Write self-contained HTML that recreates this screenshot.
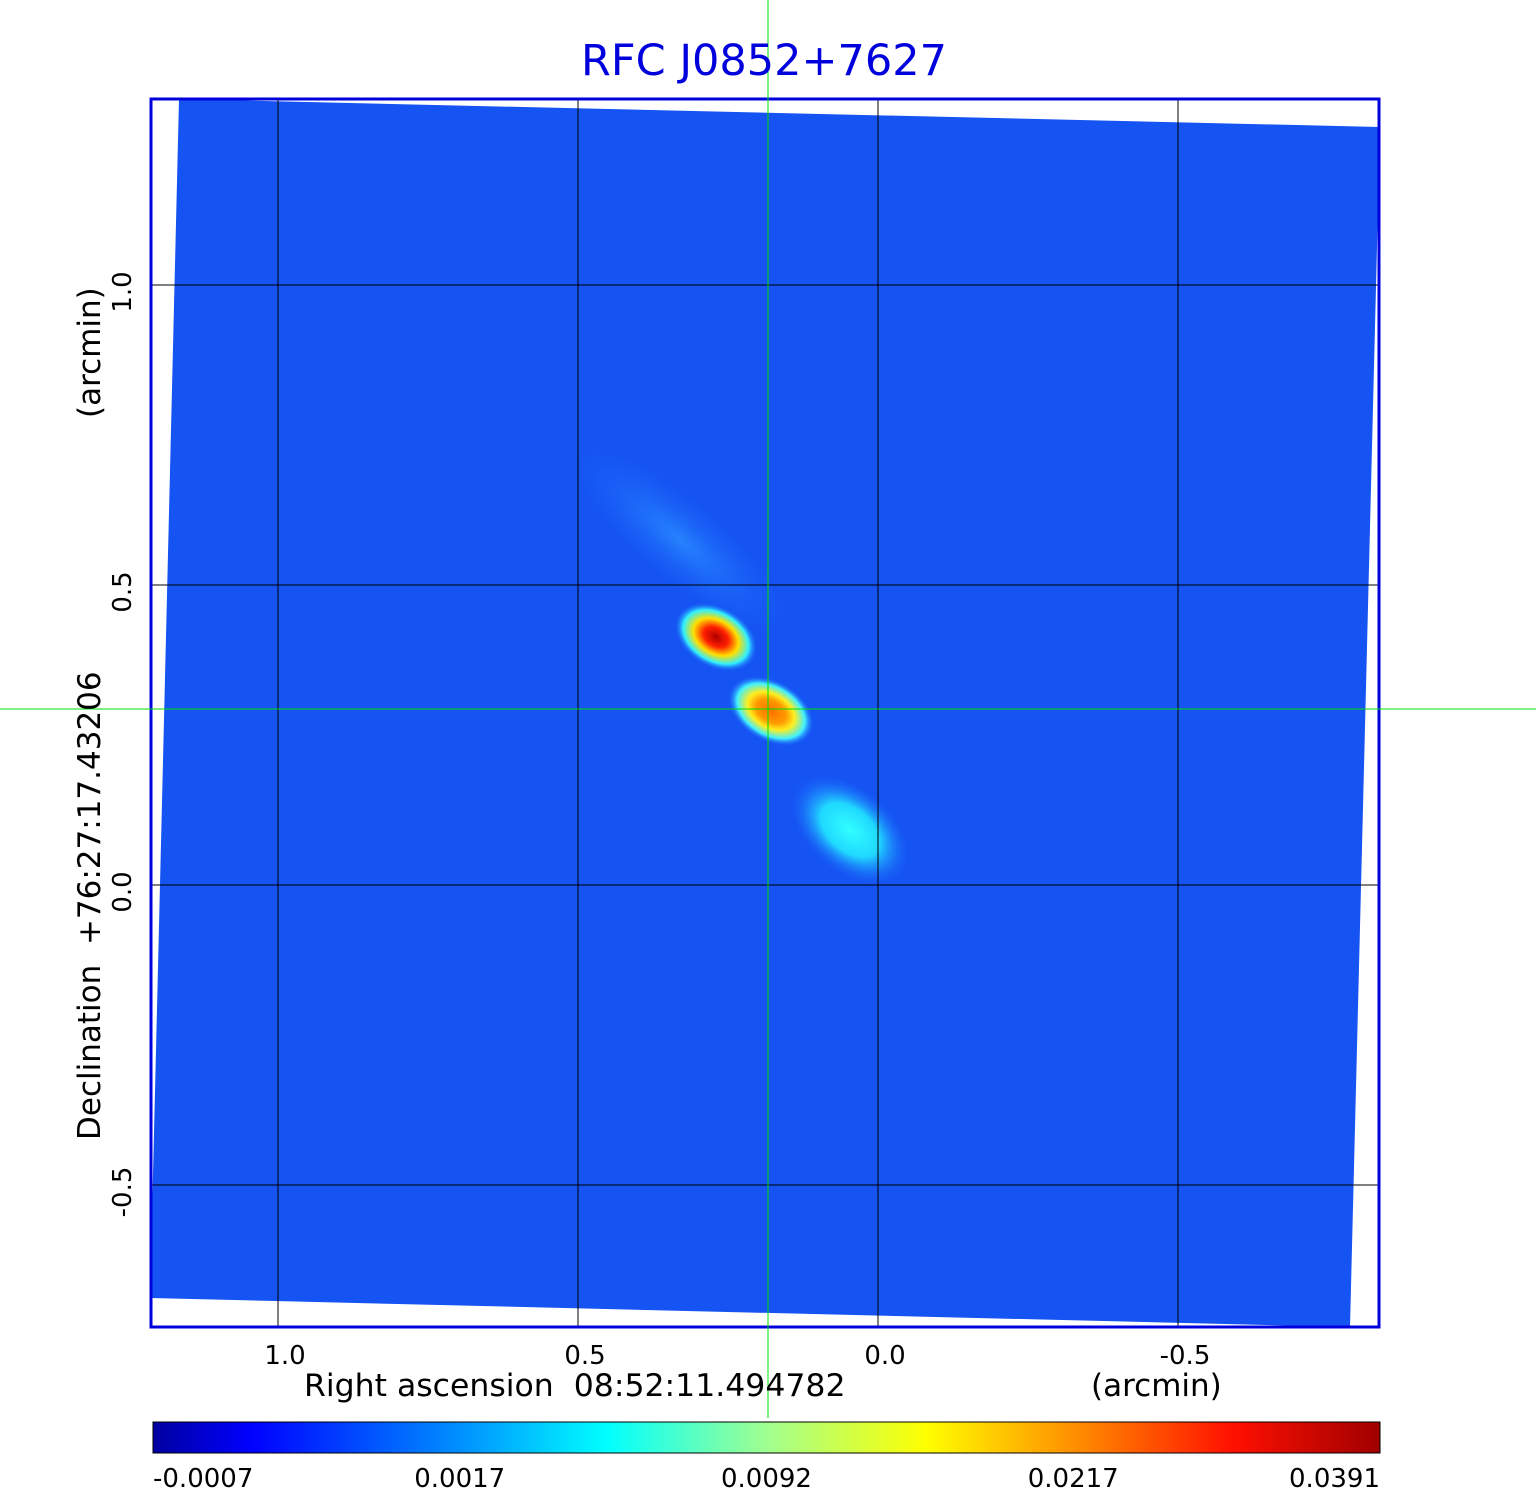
<!DOCTYPE html>
<html><head><meta charset="utf-8"><style>
html,body{margin:0;padding:0;background:#fff;width:1536px;height:1511px;overflow:hidden}
text{font-family:"DejaVu Sans","Liberation Sans",sans-serif;white-space:pre}
</style></head><body>
<svg id="chart" width="1536" height="1511" xmlns="http://www.w3.org/2000/svg">
<defs>
<radialGradient id="g1"><stop offset="0" stop-color="#b00000"/><stop offset="0.3" stop-color="#ff2000"/><stop offset="0.55" stop-color="#ffe000"/><stop offset="0.8" stop-color="#30f0ff"/><stop offset="1" stop-color="#1e6cff" stop-opacity="0"/></radialGradient>
<radialGradient id="g2"><stop offset="0" stop-color="#ff7000"/><stop offset="0.35" stop-color="#ff9a00"/><stop offset="0.55" stop-color="#ffee20"/><stop offset="0.8" stop-color="#40f0ff"/><stop offset="1" stop-color="#1e6cff" stop-opacity="0"/></radialGradient>
<radialGradient id="g3"><stop offset="0" stop-color="#30ffff"/><stop offset="0.5" stop-color="#20d8ff"/><stop offset="1" stop-color="#1e6cff" stop-opacity="0"/></radialGradient>
<radialGradient id="g4"><stop offset="0" stop-color="#2a90ff" stop-opacity="0.8"/><stop offset="1" stop-color="#1e6cff" stop-opacity="0"/></radialGradient>
<linearGradient id="cbar" x1="0" x2="1">
<stop offset="0" stop-color="#0000a0"/><stop offset="0.08" stop-color="#0000ff"/><stop offset="0.25" stop-color="#0090ff"/><stop offset="0.37" stop-color="#00ffff"/><stop offset="0.5" stop-color="#a0ff90"/><stop offset="0.63" stop-color="#ffff00"/><stop offset="0.75" stop-color="#ff9000"/><stop offset="0.88" stop-color="#ff1000"/><stop offset="1" stop-color="#a00000"/>
</linearGradient>
</defs>
<polygon points="179,99 1380,127 1350,1327 150,1298" fill="#1554f2"/>
<ellipse cx="680" cy="540" rx="130" ry="40" transform="rotate(40 680 540)" fill="url(#g4)"/>
<ellipse cx="850" cy="830" rx="68" ry="42" transform="rotate(40 850 830)" fill="url(#g3)"/>
<ellipse cx="716" cy="637" rx="44" ry="30" transform="rotate(30 716 637)" fill="url(#g1)"/>
<ellipse cx="771" cy="711" rx="46" ry="30" transform="rotate(30 771 711)" fill="url(#g2)"/>
<g id="grid"></g>
<rect x="151" y="99" width="1228" height="1228" fill="none" stroke="#0000dd" stroke-width="3"/>
<line x1="768" y1="0" x2="768" y2="1418" stroke="#00e000" stroke-width="1"/>
<line x1="0" y1="709" x2="1536" y2="709" stroke="#00e000" stroke-width="1"/>
<text x="764" y="75" font-size="43" fill="#0000dd" text-anchor="middle">RFC J0852+7627</text>
<text x="304" y="1396" font-size="31.5" fill="#000">Right ascension  08:52:11.494782</text>
<text x="1091" y="1396" font-size="31" fill="#000">(arcmin)</text>
<text transform="translate(100,1140) rotate(-90)" font-size="31" fill="#000">Declination  +76:27:17.43206</text>
<text transform="translate(100,418) rotate(-90)" font-size="31" fill="#000">(arcmin)</text>
<g id="ticks"></g>
<rect x="153" y="1422" width="1227" height="31" fill="url(#cbar)" stroke="#000" stroke-width="1"/>
<g id="cbticks"></g>
</svg>
<script>
const xTickVals=[1.0,0.5,0.0,-0.5];
const xTickLabels=["1.0","0.5","0.0","-0.5"];
const yTickVals=[1.0,0.5,0.0,-0.5];
const yTickLabels=["1.0","0.5","0.0","-0.5"];
const cbLabels=["-0.0007","0.0017","0.0092","0.0217","0.0391"];
const cbFrac=[0,0.25,0.5,0.75,1];
const ns="http://www.w3.org/2000/svg";
function xs(v){return 878-600*v;}
function ys(v){return 885-600*v;}
function cbx(f){return 153+f*(1380-153);}
const grid=document.getElementById('grid'),ticks=document.getElementById('ticks'),cb=document.getElementById('cbticks');
function mk(tag,at,parent){const e=document.createElementNS(ns,tag);for(const k in at)e.setAttribute(k,at[k]);parent.appendChild(e);return e;}
xTickVals.forEach((v,i)=>{
 const l=mk('line',{x1:xs(v),y1:99,x2:xs(v),y2:1327,stroke:'#000','stroke-width':1},grid);
 
 
 const t=mk('text',{x:xs(v)+7,y:1364,'font-size':26,'text-anchor':'middle',fill:'#000'},ticks);
 t.textContent=xTickLabels[i];
 
 
});
yTickVals.forEach((v,i)=>{
 const l=mk('line',{x1:151,y1:ys(v),x2:1379,y2:ys(v),stroke:'#000','stroke-width':1},grid);
 
 
 const t=mk('text',{transform:`translate(131,${ys(v)+7}) rotate(-90)`,'font-size':26,'text-anchor':'middle',fill:'#000'},ticks);
 t.textContent=yTickLabels[i];
 
 
});
cbLabels.forEach((s,i)=>{
 const f=cbFrac[i];
 const anchor=f<=0?'start':(f>=1?'end':'middle');
 const t=mk('text',{x:cbx(f),y:1487,'font-size':26,'text-anchor':anchor,fill:'#000'},cb);
 t.textContent=s;
 
 
});
</script>
</body></html>
